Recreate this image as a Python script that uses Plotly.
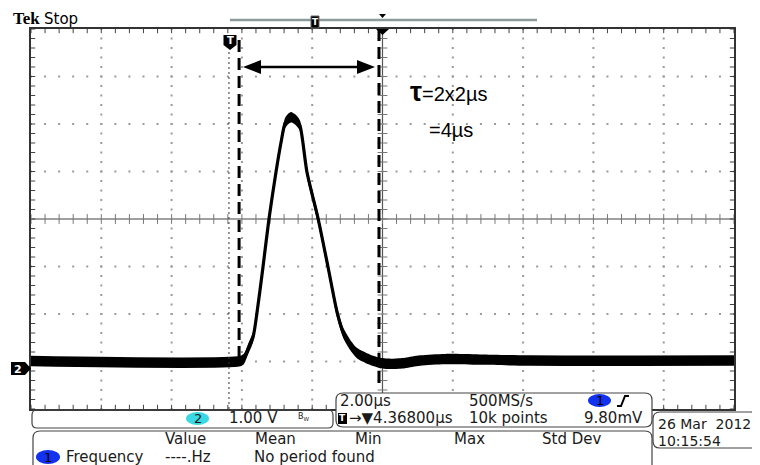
import plotly.graph_objects as go

# ---------------- data read from the screen ----------------
# channel 2 trace (time in microseconds, amplitude in volts), centre of the noise band
t_us = [-10.0, -4.05, -3.94, -3.83, -3.68, -3.57, -3.40, -3.23, -3.03, -2.89, -2.77,
        -2.66, -2.58, -2.46, -2.35, -2.15, -1.83, -1.55, -1.29, -1.12, -0.92, -0.73,
        -0.36, -0.07, 0.27, 0.64, 1.07, 1.78, 2.77, 4.20, 10.0]
v_ch2 = [-2.99, -2.99, -2.94, -2.75, -2.48, -1.97, -1.01, 0.00, 0.99, 1.60, 2.02,
         2.12, 2.14, 2.08, 1.97, 0.99, 0.00, -1.01, -1.97, -2.39, -2.65, -2.82,
         -2.96, -3.03, -3.05, -3.03, -2.98, -2.95, -2.96, -2.98, -2.98]
noise_half_v = 0.11          # half thickness of the noisy trace band

cursor_a_us = -4.08          # hand-drawn dashed cursors
cursor_b_us = -0.10
trigger_us = -4.368          # trigger marker (T)

x_range = [-10, 10]          # 10 div x 2 us
y_range = [-4, 4]            # 8 div x 1 V

ch_label = "1.00 V"
timebase = "2.00µs"
samplerate = "500MS/s"
trig_pos = "→▼4.36800µs"
points = "10k points"
trig_level = "9.80mV"
date_txt = "26 Mar  2012"
time_txt = "10:15:54"
meas_headers = ["Value", "Mean", "Min", "Max", "Std Dev"]
meas_row = ["Frequency", "----.Hz", "No period found"]

# ---------------- geometry helpers (page pixel coordinates) ----------------
PAGE_W, PAGE_H = 760, 465
BODY = 8                      # default body margin of the html page
W, H = PAGE_W - BODY, PAGE_H - BODY
L, R, T, B = 31, 734, 29, 409

def fx(x):
    return (x - L) / (R - L)

def fy(y):
    return (B - y) / (B - T)

def path(pts, close=True):
    s = "M " + " L ".join(f"{fx(x):.5f},{fy(y):.5f}" for x, y in pts)
    return s + (" Z" if close else "")

def rrect(x0, y0, x1, y1, r):
    def p(x, y):
        return f"{fx(x):.5f},{fy(y):.5f}"
    return (f"M {p(x0+r,y0)} L {p(x1-r,y0)} Q {p(x1,y0)} {p(x1,y0+r)} "
            f"L {p(x1,y1-r)} Q {p(x1,y1)} {p(x1-r,y1)} L {p(x0+r,y1)} "
            f"Q {p(x0,y1)} {p(x0,y1-r)} L {p(x0,y0+r)} Q {p(x0,y0)} {p(x0+r,y0)} Z")

fig = go.Figure()

# ---------------- graticule ----------------
dot_x, dot_y = [], []
for k in range(-8, 9, 2):
    if k == 0:
        continue
    for j in range(-20, 21):
        dot_x.append(k); dot_y.append(j * 0.2)
for k in range(-3, 4):
    if k == 0:
        continue
    for j in range(-25, 26):
        dot_x.append(j * 0.4); dot_y.append(k)
fig.add_trace(go.Scatter(x=dot_x, y=dot_y, mode="markers", hoverinfo="skip",
                         marker=dict(symbol="square", size=2, color="#9a9a9a", line=dict(width=0))))

# border ticks
bx = [j * 0.4 for j in range(-25, 26)]
by = [j * 0.2 for j in range(-20, 21)]
fig.add_trace(go.Scatter(x=bx + bx, y=[4] * len(bx) + [-4] * len(bx), mode="markers", hoverinfo="skip",
                         marker=dict(symbol="line-ns", size=6, line=dict(width=1, color="#444"))))
fig.add_trace(go.Scatter(x=[-10] * len(by) + [10] * len(by), y=by + by, mode="markers", hoverinfo="skip",
                         marker=dict(symbol="line-ew", size=6, line=dict(width=1, color="#444"))))
# centre cross ticks
fig.add_trace(go.Scatter(x=bx, y=[0] * len(bx), mode="markers", hoverinfo="skip",
                         marker=dict(symbol="line-ns", size=7, line=dict(width=1, color="#777"))))
fig.add_trace(go.Scatter(x=[0] * len(by), y=by, mode="markers", hoverinfo="skip",
                         marker=dict(symbol="line-ew", size=7, line=dict(width=1, color="#777"))))

fig.add_shape(type="line", xref="x", yref="y", x0=-10, x1=10, y0=0, y1=0,
              line=dict(color="#808080", width=1.5), layer="below")
fig.add_shape(type="line", xref="x", yref="y", x0=0, x1=0, y0=-4, y1=4,
              line=dict(color="#555", width=1.2), layer="below")

# trigger dotted line
fig.add_shape(type="line", xref="x", yref="paper", x0=trigger_us, x1=trigger_us, y0=0, y1=fy(50),
              line=dict(color="#333", width=1, dash="2px,3px"))

# ---------------- trace ----------------
lo = [v - noise_half_v for v in v_ch2]
hi = [v + noise_half_v for v in v_ch2]
sp = dict(shape="spline", smoothing=0.7)
fig.add_trace(go.Scatter(x=t_us, y=lo, mode="lines", line=dict(width=0, color="black", **sp),
                         hoverinfo="skip", showlegend=False))
fig.add_trace(go.Scatter(x=t_us, y=hi, mode="lines", line=dict(width=0, color="black", **sp),
                         fill="tonexty", fillcolor="black", hoverinfo="skip", showlegend=False))
fig.add_trace(go.Scatter(x=t_us, y=v_ch2, mode="lines", line=dict(width=3.2, color="black", **sp),
                         hoverinfo="skip", showlegend=False))

# ---------------- hand-drawn cursors & arrow ----------------
fig.add_shape(type="line", xref="x", yref="paper", x0=cursor_a_us, x1=cursor_a_us,
              y0=fy(40), y1=fy(358), line=dict(color="black", width=3, dash="12px,6px"))
fig.add_shape(type="line", xref="x", yref="paper", x0=cursor_b_us, x1=cursor_b_us,
              y0=fy(29), y1=fy(387), line=dict(color="black", width=3, dash="12px,6px"))

fig.add_shape(type="path", xref="paper", yref="paper",
              path=path([(252, 67), (366, 67)], close=False), line=dict(color="black", width=2.5))
fig.add_shape(type="path", xref="paper", yref="paper",
              path=path([(243, 67), (261, 60), (261, 74)]), fillcolor="black", line=dict(width=0))
fig.add_shape(type="path", xref="paper", yref="paper",
              path=path([(375, 67), (357, 60), (357, 74)]), fillcolor="black", line=dict(width=0))

ann = []
def txt(x, y, s, size=15, color="#1a1a1a", family="DejaVu Sans", anchor="left", bold=False):
    if bold:
        s = f"<b>{s}</b>"
    ann.append(dict(xref="paper", yref="paper", x=fx(x), y=fy(y), text=s, showarrow=False,
                    xanchor=anchor, yanchor="middle", font=dict(size=size, color=color, family=family)))

txt(408, 92, "<b><span style='font-size:27px'>τ</span></b>=2x2µs", size=20, color="black",
    family="Liberation Sans")
txt(427, 130, "=4µs", size=20, color="black", family="Liberation Sans")

# ---------------- top header ----------------
txt(11, 19, "Tek", size=17, color="black", family="Liberation Serif", bold=True)
txt(42, 19, "Stop", size=15, color="black")
fig.add_shape(type="line", xref="paper", yref="paper", x0=fx(230), x1=fx(537), y0=fy(20), y1=fy(20),
              line=dict(color="#8c9a9a", width=2.5))
fig.add_shape(type="path", xref="paper", yref="paper",
              path=path([(311, 16), (319, 16), (319, 28), (311, 28)]), fillcolor="black",
              line=dict(color="#666", width=1))
txt(315, 22, "T", size=9, color="white", anchor="center", bold=True)
fig.add_shape(type="path", xref="paper", yref="paper",
              path=path([(379, 14), (386, 14), (382.5, 18)]), fillcolor="black", line=dict(width=0))
fig.add_shape(type="path", xref="paper", yref="paper",
              path=path([(376, 29), (389, 29), (382.5, 35)]), fillcolor="black", line=dict(width=0))
# trigger shield icon
fig.add_shape(type="path", xref="paper", yref="paper",
              path=path([(223.5, 35), (236.5, 35), (236.5, 45), (230, 50), (223.5, 45)]),
              fillcolor="black", line=dict(width=0))
txt(230, 41, "T", size=10, color="white", anchor="center", bold=True)
# channel 2 ground marker
fig.add_shape(type="path", xref="paper", yref="paper",
              path=path([(11, 362), (25, 362), (31, 368.5), (25, 375), (11, 375)]),
              fillcolor="black", line=dict(width=0))
txt(18, 369, "2", size=11, color="white", anchor="center", bold=True)

# ---------------- bottom panels ----------------
fig.add_shape(type="path", xref="paper", yref="paper", path=rrect(32, 410, 333, 428, 5),
              line=dict(color="#444", width=1.2), layer="above")
fig.add_shape(type="path", xref="paper", yref="paper", path=rrect(336, 393, 652, 427, 7),
              fillcolor="white", line=dict(color="#444", width=1.2), layer="above")
fig.add_shape(type="path", xref="paper", yref="paper", path=rrect(653, 412, 758, 448, 7),
              fillcolor="white", line=dict(color="#444", width=1.2), layer="above")
fig.add_shape(type="path", xref="paper", yref="paper", path=rrect(33, 431, 652, 480, 7),
              fillcolor="white", line=dict(color="#444", width=1.2), layer="above")

# channel box
fig.add_shape(type="circle", xref="paper", yref="paper", x0=fx(186), x1=fx(209), y0=fy(412), y1=fy(425),
              fillcolor="#3ad8e2", line=dict(width=0), layer="above")
txt(197.5, 418.5, "2", size=13, anchor="center")
txt(227, 418.5, ch_label)
txt(296, 417, "B<sub>W</sub>", size=8)

# timebase box
txt(338, 401, timebase)
txt(467, 401, samplerate)
fig.add_shape(type="circle", xref="paper", yref="paper", x0=fx(588), x1=fx(611), y0=fy(394), y1=fy(407),
              fillcolor="#1232f0", line=dict(width=0), layer="above")
txt(599.5, 400.5, "1", size=13, color="black", anchor="center")
fig.add_shape(type="path", xref="paper", yref="paper",
              path=path([(617, 406), (621, 406), (625, 396), (629, 396)], close=False),
              line=dict(color="black", width=2), layer="above")
fig.add_shape(type="path", xref="paper", yref="paper",
              path=path([(338, 413), (347, 413), (347, 424), (338, 424)]),
              fillcolor="black", line=dict(width=0), layer="above")
txt(342.5, 418.5, "T", size=9, color="white", anchor="center", bold=True)
txt(347, 418.5, trig_pos)
txt(467, 418.5, points)
txt(582, 418.5, trig_level)

# date box
txt(656, 424, date_txt, size=14)
txt(656, 441, time_txt, size=14)

# measurement box
for xh, hname in zip([163, 253, 353, 452, 540], meas_headers):
    txt(xh, 439, hname)
fig.add_shape(type="circle", xref="paper", yref="paper", x0=fx(36), x1=fx(60), y0=fy(450), y1=fy(464),
              fillcolor="#1232f0", line=dict(width=0), layer="above")
txt(48, 457, "1", size=13, color="black", anchor="center")
txt(64, 457, meas_row[0])
txt(163, 457, meas_row[1])
txt(252, 457, meas_row[2])

fig.update_layout(
    width=W, height=H,
    margin=dict(l=L - BODY, r=PAGE_W - R, t=T - BODY, b=PAGE_H - B, pad=0),
    paper_bgcolor="white", plot_bgcolor="white",
    showlegend=False,
    annotations=ann,
    xaxis=dict(range=x_range, showgrid=False, zeroline=False, showticklabels=False, ticks="",
               showline=True, mirror=True, linecolor="#333", linewidth=2, fixedrange=True),
    yaxis=dict(range=y_range, showgrid=False, zeroline=False, showticklabels=False, ticks="",
               showline=True, mirror=True, linecolor="#333", linewidth=2, fixedrange=True),
)

fig.write_html("out.html", config={"displayModeBar": False})
